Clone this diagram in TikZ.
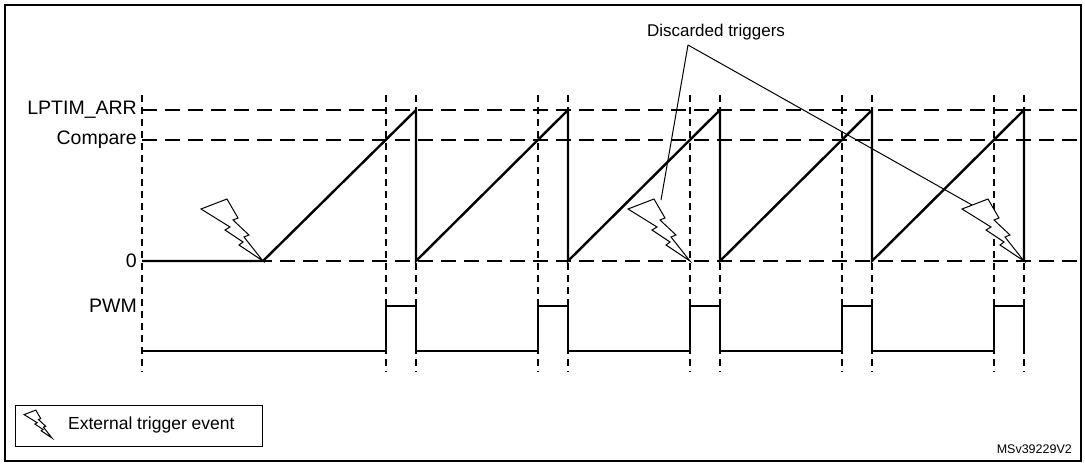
\documentclass[tikz,border=0pt]{standalone}
\usepackage{fontspec}
\setmainfont{Liberation Sans}
\begin{document}
\begin{tikzpicture}[x=1pt,y=-1pt,
  hdash/.style={line width=1.1pt,dash pattern=on 15pt off 8pt},
  vdash/.style={line width=1.1pt,dash pattern=on 7pt off 5pt},
  sig/.style={line width=2.4pt,line join=miter},
  bolt/.style={line width=1pt,fill=white,line join=miter},
  lbl/.style={font=\fontsize{19.5}{22}\selectfont,anchor=east,inner sep=0pt},
  thin/.style={line width=1pt}]
\useasboundingbox (0,0) rectangle (1085,464);
\draw[line width=2pt] (5,5) rectangle (1081,461);
\node[lbl] (larr) at (137,110) {LPTIM\_ARR};
\node[lbl] (lcmp) at (137,140) {Compare};
\node[lbl] (lzero) at (137,261) {0};
\node[lbl] (lpwm) at (137,306) {PWM};
\draw[hdash] (142,110) -- (1081,110);
\draw[hdash] (142,140) -- (1081,140);
\draw[hdash] (142,261) -- (1081,261);
\foreach \x in {142,386,416,538,568,690,720,842,872,994,1024}
  \draw[vdash] (\x,95) -- (\x,372);
% ramp
\draw[sig] (142,261) -- (263,261) -- (416,110) -- (416,261) -- (568,110) -- (568,261)
  -- (720,110) -- (720,261) -- (872,110) -- (872,261) -- (1024,110) -- (1024,261);
% pwm
\draw[sig] (142,351) -- (386,351) -- (386,306) -- (416,306) -- (416,351) -- (538,351)
  -- (538,306) -- (568,306) -- (568,351) -- (690,351) -- (690,306) -- (720,306)
  -- (720,351) -- (842,351) -- (842,306) -- (872,306) -- (872,351) -- (994,351)
  -- (994,306) -- (1024,306) -- (1024,351);
% discarded label
\node[font=\fontsize{17}{20}\selectfont,inner sep=1pt] (disc) at (716,32) {Discarded triggers};
\coordinate (d1) at (661,200);
\coordinate (d2) at (972,205);
\coordinate (ds) at (688,45);
\draw[thin] (ds) -- (d1);
\draw[thin] (ds) -- (d2);
% bolts
\newcommand{\mybolt}[2]{%
  \draw[bolt,shift={(#1,#2)}] (-62,-52) -- (-36,-62) -- (-25,-43) -- (-30,-41) -- (-14,-26)
   -- (-19,-24) -- (0,0) -- (-24,-16) -- (-20,-19) -- (-38,-31) -- (-33,-34) -- cycle;}
\mybolt{263}{261}
\mybolt{690}{261}
\mybolt{1024}{261}
% legend
\draw[thin] (15,405) rectangle (262,446);
\begin{scope}[shift={(52,438)},scale=0.45]
\draw[thin,line join=miter] (-62,-52) -- (-36,-62) -- (-25,-43) -- (-30,-41) -- (-14,-26)
   -- (-19,-24) -- (0,0) -- (-24,-16) -- (-20,-19) -- (-38,-31) -- (-33,-34) -- cycle;
\end{scope}
\node[font=\fontsize{17.5}{20}\selectfont,anchor=west,inner sep=0pt] (leg) at (68,425) {External trigger event};
\node[font=\fontsize{12.5}{14}\selectfont,anchor=east,inner sep=0pt] (id) at (1072,449) {MSv39229V2};
\end{tikzpicture}
\end{document}
